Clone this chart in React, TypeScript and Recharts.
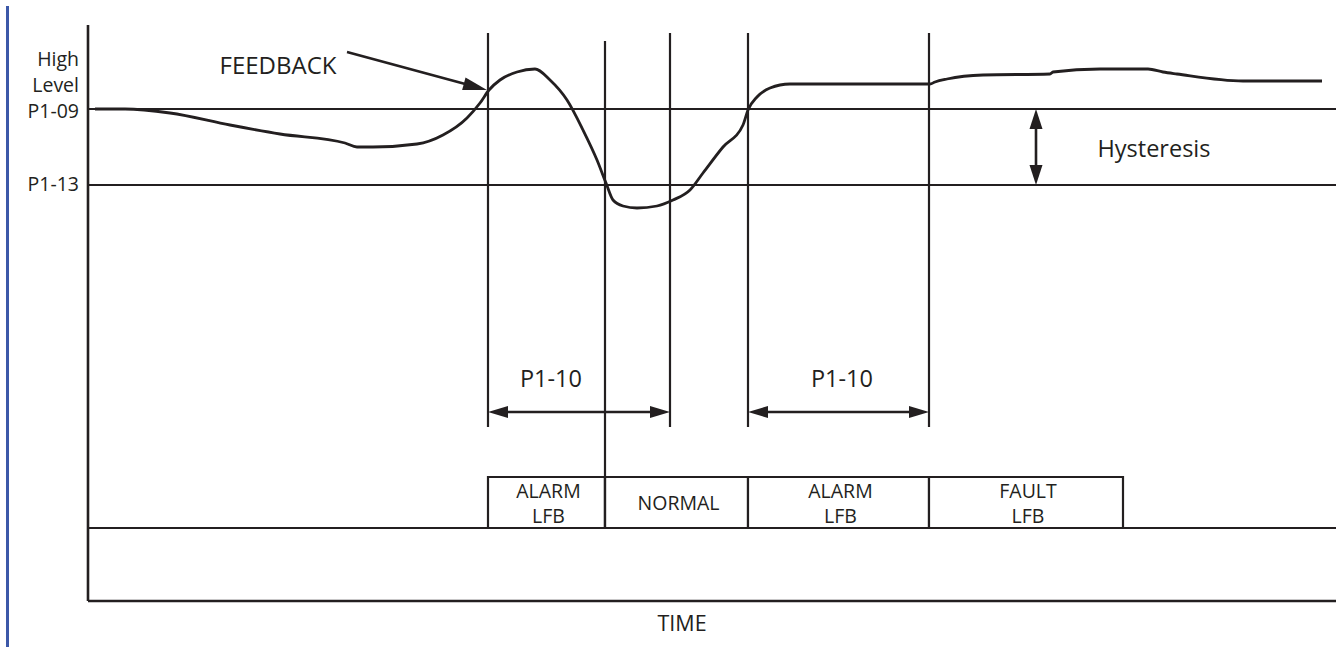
import React from "react";
import {
  ComposedChart,
  Line,
  XAxis,
  YAxis,
  ReferenceLine,
  ReferenceArea,
  ReferenceDot,
} from "recharts";

// ---- data (time units on X, level units on Y) ----
const feedbackTime = [0.7, 3.7, 8.2, 14.2, 19.2, 25.7, 26.9, 28.5, 32.9, 35.5, 37.9, 39.2, 40.1, 41.2, 42.9, 44.7, 46.2, 47.9, 49.5, 50.9, 51.8, 52.5, 53.5, 54.9, 56.9, 58.5, 60.2, 61.5, 63.5, 65.5, 66.0, 66.9, 68.2, 70.2, 84.2, 84.7, 85.9, 89.5, 96.2, 96.5, 101.2, 106.0, 107.5, 108.9, 115.5, 123.4];
const feedbackLevel = [123, 123, 122, 119, 116.75, 114.5, 113.5, 113.5, 114.25, 116.5, 120.75, 124.5, 127.75, 130.25, 132.25, 133, 130.25, 125.25, 117.75, 110.25, 104.5, 100.25, 98.75, 98.25, 98.75, 100.25, 102.75, 107, 113.5, 119, 122.75, 126, 128.25, 129.25, 129.25, 129.75, 130.5, 131.5, 131.75, 132.25, 133, 133, 132.25, 131.75, 130, 130];

const P1_09 = 123;
const P1_13 = 104;
const levelTicks = [P1_13, P1_09];
const levelTickLabels = [["P1-13"], ["High", "Level", "P1-09"]];

const markerTimes = [40, 51.7, 58.2, 66, 84.1];
const markerTops = [142, 140, 142, 142, 142];
const markerBottoms = [43.5, 18.25, 43.5, 43.5, 43.5];

const delayStart = [40, 66];
const delayEnd = [58.2, 84.1];
const delayLabels = ["P1-10", "P1-10"];
const delayLabelTime = [46.3, 75.4];
const delayLevel = 47.25;
const delayLabelLevel = 55.75;

const stateStart = [40, 51.7, 66, 84.1];
const stateEnd = [51.7, 66, 84.1, 103.5];
const stateLabels = [["ALARM", "LFB"], ["NORMAL"], ["ALARM", "LFB"], ["FAULT", "LFB"]];
const stateBottom = 18.25;
const stateTop = 31;

const hysteresisTime = 94.8;
const hysteresisLabelTime = 106.6;
const hysteresisLabelLevel = 113.25;

const feedbackArrowFrom = { t: 25.9, level: 137.25 };
const feedbackArrowTo = { t: 39.9, level: 127.75 };
const feedbackLabelPos = { t: 19, level: 134.25 };

const timeDomain = [0, 124.8];
const levelDomain = [0, 144];

const rows = feedbackTime.map((t, i) => ({ t, level: feedbackLevel[i] }));

const INK = "#231f20";
const FONT = "'Open Sans', 'DejaVu Sans', sans-serif";

function arrowHead(tx: number, ty: number, ux: number, uy: number, len: number, half: number, key: string) {
  const bx = tx - ux * len;
  const by = ty - uy * len;
  const px = -uy * half;
  const py = ux * half;
  return (
    <polygon
      key={key}
      points={`${tx},${ty} ${bx + px},${by + py} ${bx - px},${by - py}`}
      fill={INK}
      stroke="none"
    />
  );
}

function makeArrow(heads: "end" | "both", width = 2.4, len = 20, half = 6) {
  return (p: any) => {
    const { x1, y1, x2, y2 } = p;
    if ([x1, y1, x2, y2].some((v) => typeof v !== "number" || isNaN(v))) return <g />;
    const dx = x2 - x1;
    const dy = y2 - y1;
    const L = Math.hypot(dx, dy) || 1;
    const ux = dx / L;
    const uy = dy / L;
    const sx = heads === "both" ? x1 + ux * len * 0.7 : x1;
    const sy = heads === "both" ? y1 + uy * len * 0.7 : y1;
    const ex = x2 - ux * len * 0.7;
    const ey = y2 - uy * len * 0.7;
    return (
      <g>
        <line x1={sx} y1={sy} x2={ex} y2={ey} stroke={INK} strokeWidth={width} />
        {arrowHead(x2, y2, ux, uy, len, half, "e")}
        {heads === "both" ? arrowHead(x1, y1, -ux, -uy, len, half, "s") : null}
      </g>
    );
  };
}

function textContent(lines: string[], size: number, spacing: number, dx = 0, dy = 0) {
  return (props: any) => {
    const vb = props.viewBox || {};
    const cx = (vb.x ?? 0) + (vb.width ?? 0) / 2 + dx;
    const cy = (vb.y ?? 0) + (vb.height ?? 0) / 2 + dy;
    const start = cy - ((lines.length - 1) * spacing) / 2;
    return (
      <g>
        {lines.map((s, i) => (
          <text
            key={i}
            x={cx}
            y={start + i * spacing}
            textAnchor="middle"
            dominantBaseline="central"
            fontFamily={FONT}
            fontSize={size}
            fill={INK}
          >
            {s}
          </text>
        ))}
      </g>
    );
  };
}

function LeftTick(props: any) {
  const { x, y, payload } = props;
  const idx = levelTicks.indexOf(payload.value);
  const lines = levelTickLabels[idx] || [];
  const n = lines.length;
  return (
    <g>
      {lines.map((s, i) => (
        <text
          key={i}
          x={x}
          y={y + (n > 1 ? 1 : -2) - (n - 1 - i) * 26}
          textAnchor="end"
          dominantBaseline="central"
          fontFamily={FONT}
          fontSize={19.5}
          fill={INK}
        >
          {s}
        </text>
      ))}
    </g>
  );
}

const timeLabel = (props: any) => {
  const vb = props.viewBox || {};
  return (
    <text
      x={(vb.x ?? 0) + (vb.width ?? 0) * 0.476}
      y={(vb.y ?? 0) + 21}
      textAnchor="middle"
      dominantBaseline="central"
      fontFamily={FONT}
      fontSize={21.5}
      fill={INK}
    >
      TIME
    </text>
  );
};

export default function App() {
  return (
    <div style={{ position: "absolute", left: 0, top: 0, width: 1336, height: 647, background: "#fff" }}>
      <div style={{ position: "absolute", left: 6, top: 6, width: 3, height: 641, background: "#3c58a8" }} />
      <ComposedChart
        width={1336}
        height={647}
        data={rows}
        margin={{ top: 25, right: 0, bottom: 0, left: 0 }}
      >
        <XAxis
          dataKey="t"
          type="number"
          domain={timeDomain}
          allowDataOverflow
          tick={false}
          tickLine={false}
          height={46}
          axisLine={{ stroke: INK, strokeWidth: 2.6 }}
          label={timeLabel}
        />
        <YAxis
          type="number"
          domain={levelDomain}
          allowDataOverflow
          width={88}
          ticks={levelTicks}
          tickLine={false}
          tickSize={0}
          tickMargin={9}
          tick={<LeftTick />}
          axisLine={{ stroke: INK, strokeWidth: 2.6 }}
          interval={0}
        />

        <ReferenceLine y={P1_09} stroke={INK} strokeWidth={2.2} />
        <ReferenceLine y={P1_13} stroke={INK} strokeWidth={2.2} />
        <ReferenceLine y={stateBottom} stroke={INK} strokeWidth={2.2} />

        {markerTimes.map((t, i) => (
          <ReferenceLine
            key={`m${i}`}
            segment={[
              { x: t, y: markerTops[i] },
              { x: t, y: markerBottoms[i] },
            ]}
            stroke={INK}
            strokeWidth={2.2}
          />
        ))}

        {stateStart.map((s, i) => (
          <ReferenceArea
            key={`s${i}`}
            x1={s}
            x2={stateEnd[i]}
            y1={stateBottom}
            y2={stateTop}
            fill="#fff"
            fillOpacity={1}
            stroke={INK}
            strokeWidth={2.2}
            label={textContent(stateLabels[i], 19.5, 25, 2, 0)}
          />
        ))}

        {delayStart.map((s, i) => (
          <ReferenceLine
            key={`d${i}`}
            segment={[
              { x: s, y: delayLevel },
              { x: delayEnd[i], y: delayLevel },
            ]}
            shape={makeArrow("both")}
          />
        ))}
        {delayLabels.map((lab, i) => (
          <ReferenceDot
            key={`dl${i}`}
            x={delayLabelTime[i]}
            y={delayLabelLevel}
            r={0}
            fill="none"
            stroke="none"
            label={textContent([lab], 23.5, 0)}
          />
        ))}

        <ReferenceLine
          segment={[
            { x: hysteresisTime, y: P1_09 },
            { x: hysteresisTime, y: P1_13 },
          ]}
          shape={makeArrow("both", 2.6, 20, 6.5)}
        />
        <ReferenceDot
          x={hysteresisLabelTime}
          y={hysteresisLabelLevel}
          r={0}
          fill="none"
          stroke="none"
          label={textContent(["Hysteresis"], 23.5, 0)}
        />

        <ReferenceLine
          segment={[
            { x: feedbackArrowFrom.t, y: feedbackArrowFrom.level },
            { x: feedbackArrowTo.t, y: feedbackArrowTo.level },
          ]}
          shape={makeArrow("end", 2.6, 24, 6.5)}
        />
        <ReferenceDot
          x={feedbackLabelPos.t}
          y={feedbackLabelPos.level}
          r={0}
          fill="none"
          stroke="none"
          label={textContent(["FEEDBACK"], 24, 0)}
        />

        <Line
          dataKey="level"
          type="monotone"
          dot={false}
          activeDot={false}
          stroke={INK}
          strokeWidth={2.8}
          isAnimationActive={false}
        />
      </ComposedChart>
    </div>
  );
}
